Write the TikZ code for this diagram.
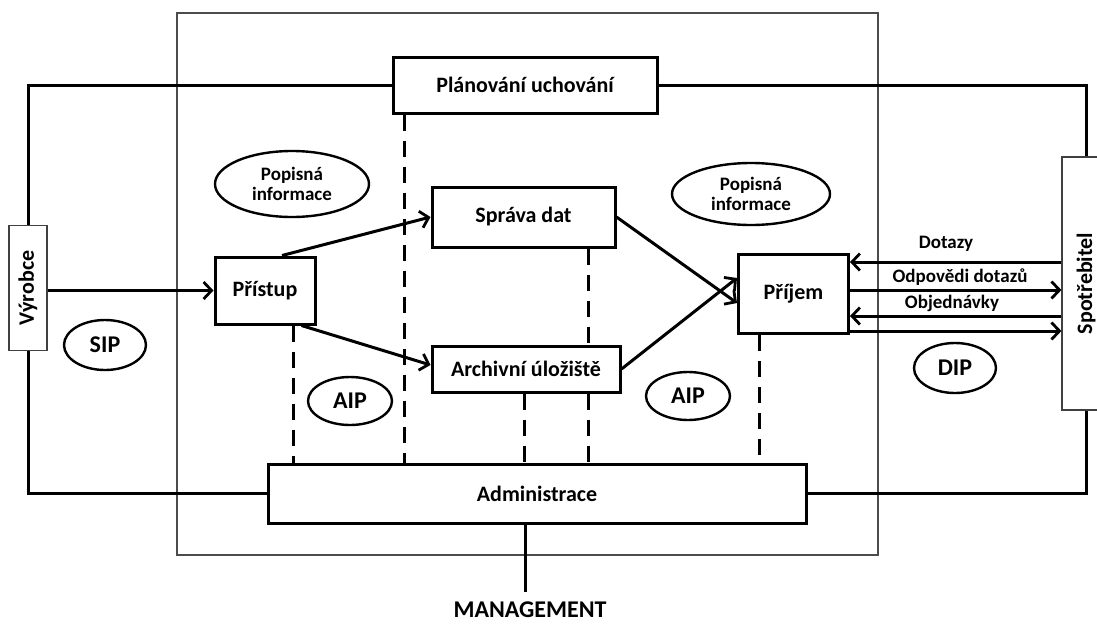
\documentclass[tikz,border=0pt]{standalone}
\usepackage{fontspec}
\usepackage{graphicx}
\setmainfont{Carlito}
\usetikzlibrary{arrows.meta,shapes.geometric}
\newcommand\boxfont{\fontsize{22}{24}\selectfont\bfseries}
\newcommand\smallfont{\fontsize{19}{20}\selectfont\bfseries}
\newcommand\ellfont{\fontsize{24}{26}\selectfont\bfseries}
\newcommand\mgmtfont{\fontsize{24}{26}\selectfont\bfseries}
\tikzset{
  box/.style={draw, line width=3pt, fill=white, inner sep=0pt, font=\boxfont},
  thinbox/.style={draw=black!75, line width=1.2pt, fill=white, inner sep=0pt, font=\boxfont},
  ell/.style={draw, ellipse, line width=2.4pt, inner sep=0pt, font=\smallfont, align=center},
  conn/.style={line width=3pt},
  arr/.style={conn, -{Straight Barb[length=8pt,width=17pt,line width=2.8pt]}},
  dashl/.style={line width=3pt, dash pattern=on 16pt off 10pt},
  lab/.style={font=\smallfont, inner sep=0pt},
}
\begin{document}
\begin{tikzpicture}[x=1pt,y=-1pt]
\useasboundingbox (0,0) rectangle (1097,624);
% outer frame
\draw[black!70, line width=1.3pt] (177,13) rectangle (878,555);

% boxes
\node[box, minimum width=264, minimum height=56] (plan) at (525,85) {Plánování uchování};
\node[box, minimum width=538, minimum height=59] (admin) at (537,493.5) {Administrace};
\node[box, minimum width=100, minimum height=67] (pristup) at (265,290.5) {Přístup};
\node[box, minimum width=183, minimum height=60] (sprava) at (523.5,217) {Správa dat};
\node[box, minimum width=188, minimum height=46] (archiv) at (526,369) {Archivní úložiště};
\node[box, minimum width=110, minimum height=79] (prijem) at (793.5,294) {Příjem};
\node[thinbox, minimum width=38, minimum height=125] (vyrobce) at (28,288) {\rotatebox{90}{Výrobce}};
\node[thinbox, minimum width=48, minimum height=253] (spot) at (1086,283.5) {\rotatebox{90}{Spotřebitel}};
\node[font=\mgmtfont, inner sep=0pt] (mgmt) at (530,610) {MANAGEMENT};

% ellipses
\node[ell, minimum width=154, minimum height=66] (popL) at (292,184) {Popisná\\informace};
\node[ell, minimum width=158, minimum height=62] (popR) at (751,194) {Popisná\\informace};
\node[ell, font=\ellfont, minimum width=82, minimum height=50] (sip) at (105,345) {SIP};
\node[ell, font=\ellfont, minimum width=84, minimum height=48] (aipL) at (350,401) {AIP};
\node[ell, font=\ellfont, minimum width=84, minimum height=48] (aipR) at (688,396) {AIP};
\node[ell, font=\ellfont, minimum width=82, minimum height=50] (dip) at (955,368) {DIP};

% outer connectors
\draw[conn] (vyrobce.north) |- (plan.west);
\draw[conn] (plan.east) -| (spot.north);
\draw[conn] (vyrobce.south) |- (admin.west);
\draw[conn] (admin.east) -| (spot.south);
\draw[conn] (admin.south -| 525,0) -- ([yshift=10pt]mgmt.north -| 525,0);

% flow arrows
\draw[arr] (vyrobce.east |- pristup.west) -- (pristup.west);
\draw[arr] ([xshift=17pt]pristup.north) -- (sprava.west);
\draw[arr] ([xshift=-15pt]pristup.south east) -- ([yshift=4pt]archiv.west);
\draw[arr] (sprava.east) -- ([yshift=-9pt]prijem.west);
\draw[arr] (archiv.east) -- ([yshift=16pt]prijem.west);

% consumer arrows
\draw[arr] (spot.west |- 0,262) -- (prijem.east |- 0,262);
\draw[arr] (prijem.east |- 0,290) -- (spot.west |- 0,290);
\draw[arr] (spot.west |- 0,316) -- (prijem.east |- 0,316);
\draw[arr] (prijem.east |- 0,331) -- (spot.west |- 0,331);
\node[lab] (ldot) at (946,244) {Dotazy};
\node[lab] (lodp) at (960,277) {Odpovědi dotazů};
\node[lab] (lobj) at (952,303) {Objednávky};

% dashed links
\draw[dashl] (plan.south -| 404,0) -- (admin.north -| 404,0);
\draw[dashl] (pristup.south -| 293,0) -- (admin.north -| 293,0);
\draw[dashl] (sprava.south -| 588,0) -- (archiv.north -| 588,0);
\draw[dashl] (archiv.south -| 588,0) -- (admin.north -| 588,0);
\draw[dashl] (archiv.south -| 524,0) -- (admin.north -| 524,0);
\draw[dashl] (prijem.south -| 759,0) -- (admin.north -| 759,0);
\end{tikzpicture}
\end{document}
